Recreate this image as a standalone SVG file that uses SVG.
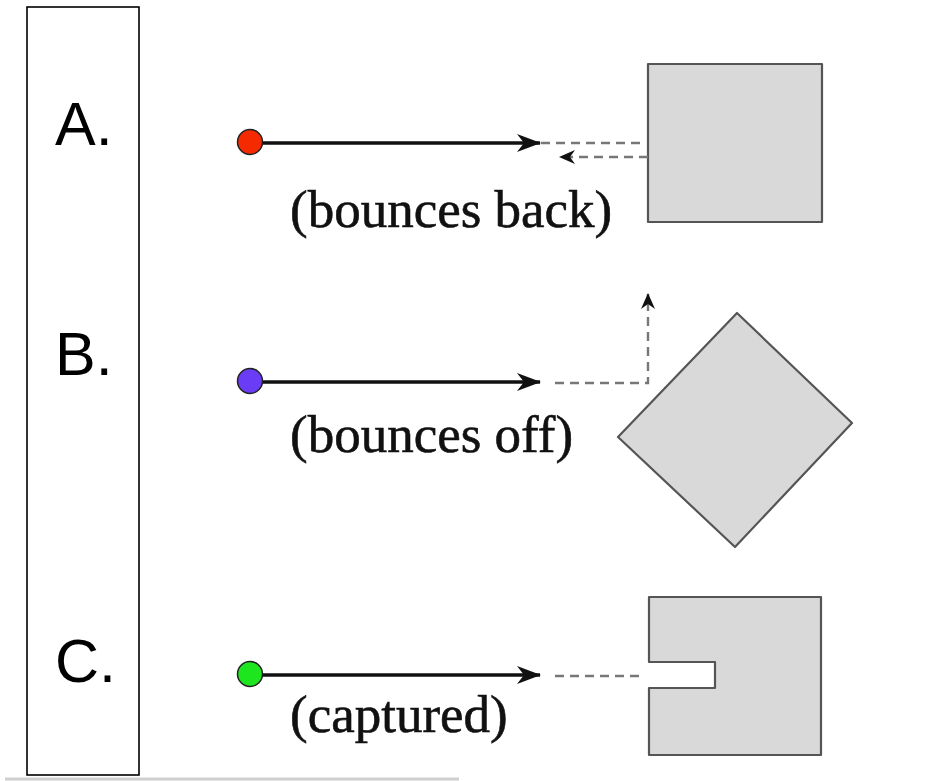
<svg xmlns="http://www.w3.org/2000/svg" width="948" height="781" viewBox="0 0 948 781">
  <style>
    .panel { fill: none; stroke: #000; stroke-width: 1.6; }
    .letter { font-family: "Liberation Sans", Arial, sans-serif; font-size: 61px; fill: #000; }
    .caption { font-family: "Liberation Serif", "Times New Roman", serif; font-size: 53px; fill: #111; stroke: #111; stroke-width: 0.6; }
    .body { fill: #d9d9d9; stroke: #555; stroke-width: 2.2; stroke-linejoin: round; }
    .path-solid { fill: none; stroke: #111; stroke-width: 3.4; }
    .path-dash { fill: none; stroke: #777; stroke-width: 2.4; stroke-dasharray: 9 6; }
    .dot { stroke: #222; stroke-width: 1.5; }
  </style>
  <defs>
    <marker id="head" markerUnits="userSpaceOnUse" viewBox="0 0 24 18" refX="23" refY="9" markerWidth="24" markerHeight="18" orient="auto">
      <path d="M0,0 L24,9 L0,18 L7,9 z" fill="#111"/>
    </marker>
    <marker id="head-small" markerUnits="userSpaceOnUse" viewBox="0 0 16 14" refX="15" refY="7" markerWidth="16" markerHeight="14" orient="auto">
      <path d="M0,0 L16,7 L0,14 L5,7 z" fill="#111"/>
    </marker>
  </defs>

  <rect width="948" height="781" fill="#fff"/>

  <!-- side panel with row letters -->
  <g id="side-panel">
    <rect class="panel" x="27" y="7" width="112" height="768"/>
    <text class="letter" x="55" y="145">A.</text>
    <text class="letter" x="55" y="375">B.</text>
    <text class="letter" x="55" y="682">C.</text>
  </g>

  <!-- target bodies -->
  <g id="body-a">
    <rect class="body" x="648" y="64" width="174" height="158"/>
  </g>
  <g id="body-b">
    <polygon class="body" points="737,313 852,423 735,547 618,437"/>
  </g>
  <g id="body-c">
    <path class="body" d="M649,597 H821 V755 H649 V688 H715 V662 H649 Z"/>
  </g>

  <!-- particle trajectories -->
  <g id="connectors">
    <line class="path-solid" x1="258" y1="143" x2="540" y2="143" marker-end="url(#head)"/>
    <line class="path-dash" x1="541" y1="143" x2="640" y2="143"/>
    <line class="path-dash" x1="648" y1="157" x2="560" y2="157" marker-end="url(#head-small)"/>

    <line class="path-solid" x1="258" y1="382" x2="540" y2="382" marker-end="url(#head)"/>
    <path class="path-dash" d="M555,383 H648 V294" marker-end="url(#head-small)"/>

    <line class="path-solid" x1="258" y1="675" x2="540" y2="675" marker-end="url(#head)"/>
    <line class="path-dash" x1="555" y1="676" x2="645" y2="676"/>
  </g>

  <!-- particles -->
  <g id="particle-a"><circle class="dot" cx="250" cy="142" r="12.5" fill="#f52a00"/></g>
  <g id="particle-b"><circle class="dot" cx="250" cy="381" r="12.5" fill="#6b3cf5"/></g>
  <g id="particle-c"><circle class="dot" cx="250" cy="674" r="12.5" fill="#1ee61e"/></g>

  <!-- captions -->
  <g id="caption-a"><text class="caption" x="290" y="227">(bounces back)</text></g>
  <g id="caption-b"><text class="caption" x="290" y="452">(bounces off)</text></g>
  <g id="caption-c"><text class="caption" x="290" y="732">(captured)</text></g>

  <!-- bottom rule -->
  <line x1="5" y1="779" x2="459" y2="779" stroke="#cfcfcf" stroke-width="3"/>
</svg>
